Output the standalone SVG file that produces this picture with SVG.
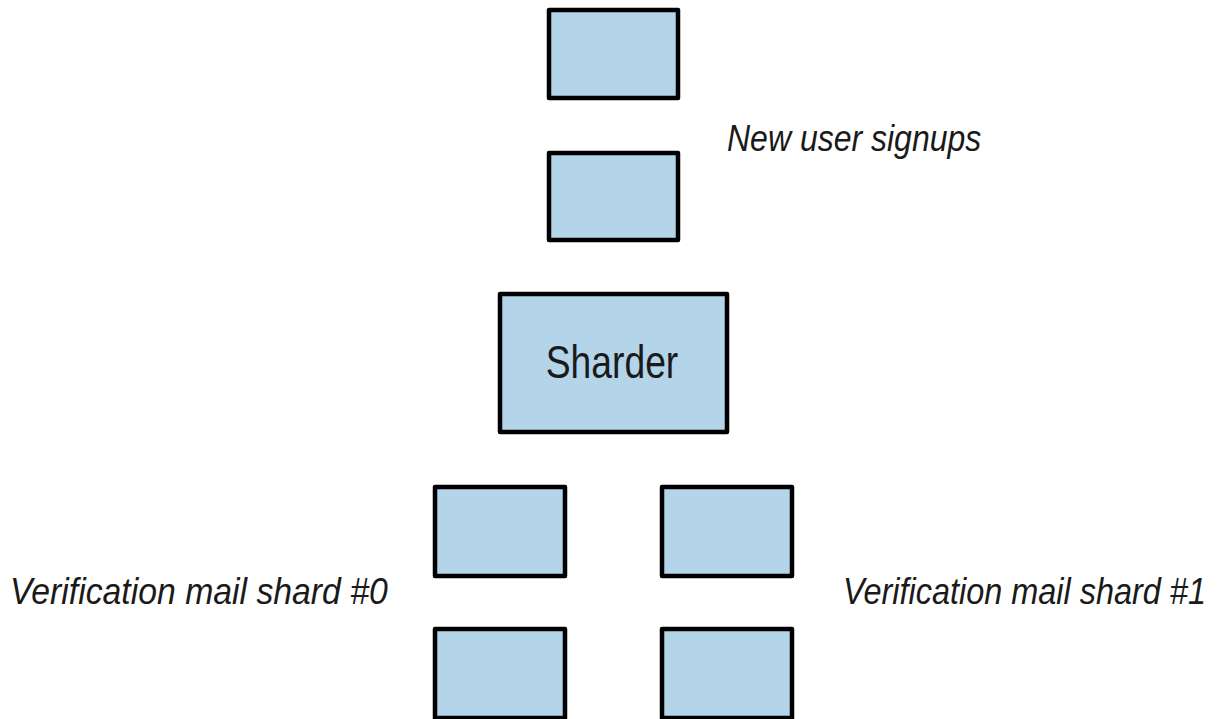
<svg xmlns="http://www.w3.org/2000/svg" width="1217" height="719" viewBox="0 0 1217 719">
<style>
.box{fill:#b3d4e9;stroke:#000;stroke-width:4.5;stroke-linejoin:round}
.lbl{font-family:"Liberation Sans",Arial,sans-serif;font-style:italic;fill:#1a1a1a;font-size:37px}
.name{font-family:"Liberation Sans",Arial,sans-serif;fill:#1a1a1a;font-size:46px}
</style>
<rect width="1217" height="719" fill="#fff"/>
<g id="signup1"><rect class="box" x="549" y="10" width="129" height="88"/></g>
<g id="signup2"><rect class="box" x="549" y="153" width="129" height="87"/></g>
<g id="signups-label"><text class="lbl" transform="translate(727,151) scale(0.865,1)" x="0" y="0">New user signups</text></g>
<g id="sharder"><rect class="box" x="500" y="294" width="227" height="138"/><text class="name" transform="translate(612,378) scale(0.81,1)" x="0" y="0" text-anchor="middle">Sharder</text></g>
<g id="shard0a"><rect class="box" x="435" y="487" width="130" height="89"/></g>
<g id="shard0b"><rect class="box" x="435" y="629" width="130" height="89"/></g>
<g id="shard1a"><rect class="box" x="662" y="487" width="130" height="89"/></g>
<g id="shard1b"><rect class="box" x="662" y="629" width="130" height="89"/></g>
<g id="shard0-label"><text class="lbl" transform="translate(10,604) scale(0.913,1)" x="0" y="0">Verification mail shard #0</text></g>
<g id="shard1-label"><text class="lbl" transform="translate(843,604) scale(0.877,1)" x="0" y="0">Verification mail shard #1</text></g>
<g id="connectors"></g>
</svg>
